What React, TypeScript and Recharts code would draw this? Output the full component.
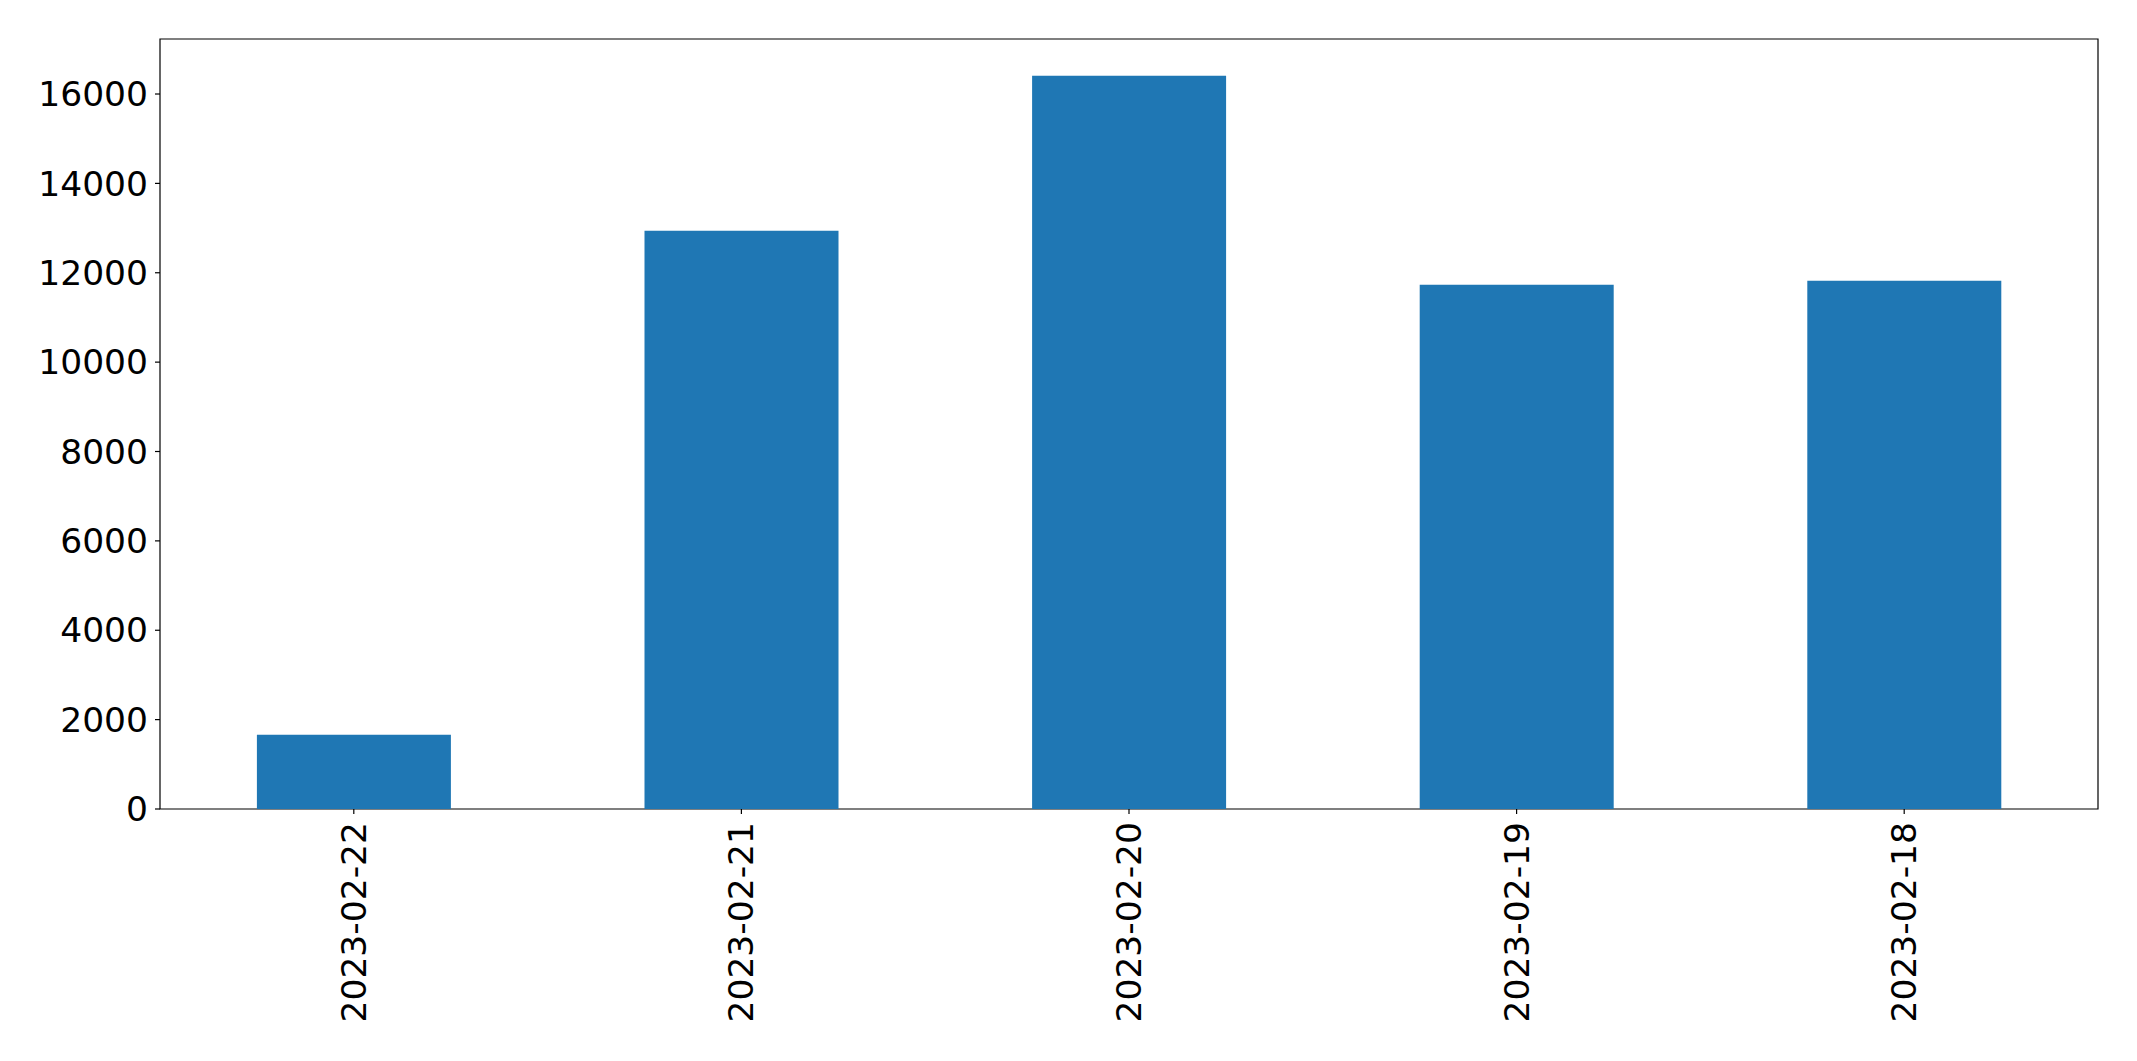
import React from 'react';
import { BarChart, Bar, XAxis, YAxis, ReferenceArea } from 'recharts';

const DATES = ['2023-02-22', '2023-02-21', '2023-02-20', '2023-02-19', '2023-02-18'];
const COUNTS = [1660, 12940, 16410, 11730, 11820];
const Y_TICKS = [0, 2000, 4000, 6000, 8000, 10000, 12000, 14000, 16000];
const Y_MAX = 17231;

const BAR_COLOR = '#1f77b4';
const FONT = '"DejaVu Sans", sans-serif';
const FONT_SIZE = 34.5;

const data = DATES.map((date, i) => ({ date, count: COUNTS[i] }));

const RotatedTick = (props: any) => {
  const { x, y, payload } = props;
  return (
    <text
      transform={`translate(${x},${y}) rotate(-90)`}
      textAnchor="end"
      dominantBaseline="central"
      fontSize={FONT_SIZE}
      fontFamily={FONT}
      fill="#000"
    >
      {payload.value}
    </text>
  );
};

const App: React.FC = () => {
  return (
    <div style={{ position: 'absolute', left: 0, top: 0, width: 2137, height: 1061, background: '#fff' }}>
      <BarChart
        width={2137}
        height={1061}
        data={data}
        margin={{ top: 39, right: 39, left: 0, bottom: 2 }}
        barCategoryGap="25%"
      >
        <XAxis
          dataKey="date"
          height={250}
          tick={<RotatedTick />}
          tickSize={5}
          tickMargin={8}
          interval={0}
          axisLine={false}
          tickLine={{ stroke: '#000', strokeWidth: 1.2 }}
        />
        <YAxis
          width={160}
          domain={[0, Y_MAX]}
          ticks={Y_TICKS}
          tickSize={5}
          tickMargin={7}
          axisLine={false}
          tickLine={{ stroke: '#000', strokeWidth: 1.2 }}
          tick={{ fill: '#000', fontSize: FONT_SIZE, fontFamily: FONT }}
          allowDataOverflow
        />
        <Bar dataKey="count" fill={BAR_COLOR} isAnimationActive={false} />
        <ReferenceArea
          y1={0}
          y2={Y_MAX}
          fill="none"
          fillOpacity={0}
          stroke="#000"
          strokeWidth={1.2}
          strokeOpacity={1}
          ifOverflow="visible"
        />
      </BarChart>
    </div>
  );
};

export default App;
